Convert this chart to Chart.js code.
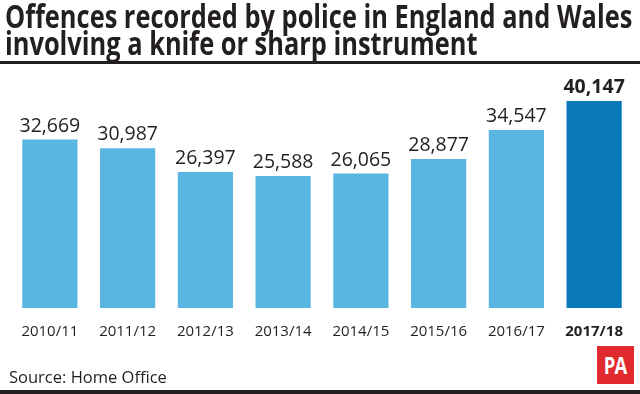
<!DOCTYPE html>
<html>
<head>
<meta charset="utf-8">
<script src="https://cdn.jsdelivr.net/npm/chart.js@4"></script>
<style>
  html, body { margin: 0; padding: 0; background: #fff; }
  #wrap { position: relative; width: 640px; height: 394px; overflow: hidden; font-family: "Open Sans", sans-serif; color: #222; }
  #chart { position: absolute; left: 0; top: 0; }
  .title { position: absolute; left: 5px; font-weight: 700; font-size: 32px; line-height: 30px; white-space: nowrap; transform-origin: 0 0; color: #231f20; }
  #t1 { top: 1px; }
  #t2 { top: 28px; }
  .rule { position: absolute; left: 0; width: 640px; background: #231f20; }
  #source { position: absolute; left: 9px; top: 365px; font-size: 16.5px; color: #231f20; }
  #logo { position: absolute; left: 597px; top: 346px; width: 37px; height: 38px; background: #e02a2d; color: #fff; font-weight: 700; font-size: 23px; line-height: 38px; text-align: center; letter-spacing: -1px; }
  #logo span { display: inline-block; transform: scaleX(0.8); }
</style>
</head>
<body>
<div id="wrap">
  <canvas id="chart" width="640" height="394"></canvas>
  <div class="title" id="t1">Offences recorded by police in England and Wales</div>
  <div class="title" id="t2">involving a knife or sharp instrument</div>
  <div class="rule" style="top:61px;height:3px"></div>
  <div id="source">Source: Home Office</div>
  <div id="logo"><span>PA</span></div>
  <div class="rule" style="top:390px;height:4px"></div>
</div>
<script>
var years = ["2010/11", "2011/12", "2012/13", "2013/14", "2014/15", "2015/16", "2016/17", "2017/18"];
var offences = [32669, 30987, 26397, 25588, 26065, 28877, 34547, 40147];
var lightBlue = '#58b6e0';
var darkBlue = '#0a79b9';

// squeeze the title so line one spans the width like the original
var t1 = document.getElementById('t1');
var sx = 627 / t1.scrollWidth;
document.getElementById('t1').style.transform = 'scaleX(' + sx + ')';
document.getElementById('t2').style.transform = 'scaleX(' + sx + ')';

var valueLabels = {
	id: 'valueLabels',
	afterDatasetsDraw: function(chart) {
		var ctx = chart.ctx;
		var meta = chart.getDatasetMeta(0);
		ctx.save();
		ctx.textAlign = 'center';
		ctx.textBaseline = 'alphabetic';
		ctx.fillStyle = '#231f20';
		meta.data.forEach(function(bar, i) {
			var last = i === offences.length - 1;
			ctx.font = (last ? 'bold ' : '') + '19.5px "Open Sans"';
			ctx.fillText(offences[i].toLocaleString('en-GB'), bar.x, bar.y - 8);
		});
		ctx.restore();
	}
};

new Chart(document.getElementById('chart').getContext('2d'), {
	type: 'bar',
	data: {
		labels: years,
		datasets: [{
			data: offences,
			backgroundColor: offences.map(function(v, i) { return i === offences.length - 1 ? darkBlue : lightBlue; }),
			borderWidth: 0,
			categoryPercentage: 1,
			barPercentage: 0.71
		}]
	},
	options: {
		responsive: false,
		animation: false,
		layout: { padding: { top: 76, left: 11, right: 7, bottom: 38 } },
		plugins: { legend: { display: false }, tooltip: { enabled: false } },
		scales: {
			y: { display: false, min: 0, max: 45000 },
			x: {
				grid: { display: false, drawTicks: false },
				border: { display: false },
				ticks: {
					padding: 15,
					color: '#231f20',
					font: function(c) {
						return { family: 'Open Sans', size: 15, weight: c.index === years.length - 1 ? 'bold' : 'normal' };
					}
				}
			}
		}
	},
	plugins: [valueLabels]
});
</script>
</body>
</html>
